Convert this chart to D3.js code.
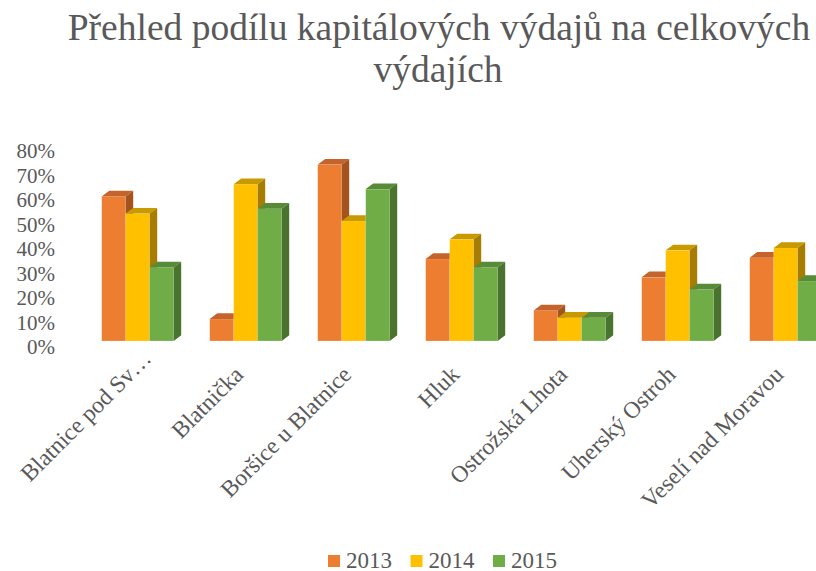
<!DOCTYPE html>
<html>
<head>
<meta charset="utf-8">
<script src="https://cdn.jsdelivr.net/npm/d3@7"></script>
<style>
  body { margin: 0; background: #fff; }
</style>
</head>
<body>
<div id="chart"></div>
<script>
// data
const categories = ["Blatnice pod Sv…", "Blatnička", "Boršice u Blatnice", "Hluk",
  "Ostrožská Lhota", "Uherský Ostroh", "Veselí nad Moravou"];
const years = ["2013", "2014", "2015"];
const v2013 = [0.59, 0.09, 0.72, 0.335, 0.125, 0.26, 0.34];
const v2014 = [0.52, 0.64, 0.49, 0.415, 0.095, 0.37, 0.38];
const v2015 = [0.30, 0.54, 0.62, 0.30, 0.095, 0.21, 0.245];
const yTicks = [0, 0.1, 0.2, 0.3, 0.4, 0.5, 0.6, 0.7, 0.8];

const series = [v2013, v2014, v2015];
const front = ["#ED7D31", "#FFC000", "#70AD47"];
const topC = ["#C4632A", "#C99A00", "#588B37"];
const sideC = ["#A4531F", "#A67D00", "#4A732E"];

const FONT = "'Liberation Serif', 'Times New Roman', serif";
const W = 816, H = 571;
const base = 341;
const dx = 7.5, dy = -5.7; // depth offset

const svg = d3.select("#chart").append("svg")
  .attr("width", W).attr("height", H);

svg.append("rect").attr("width", W).attr("height", H).attr("fill", "#fff");

// title
const title = svg.append("text")
  .attr("text-anchor", "middle")
  .style("font-family", FONT)
  .style("font-size", "37.5px")
  .attr("fill", "#595959");
title.append("tspan").attr("x", 439).attr("y", 40)
  .text("Přehled podílu kapitálových výdajů na celkových");
title.append("tspan").attr("x", 438).attr("y", 82).text("výdajích");

const x = d3.scaleBand().domain(categories).range([83.7, 83.7 + 108 * 7]).padding(0);
const xs = d3.scaleBand().domain(years).range([18, 90]);
const y = d3.scaleLinear().domain([0, 0.8]).range([base, base - 196]);

// y axis labels
const yAxis = svg.append("g")
  .attr("transform", "translate(57,6)")
  .call(d3.axisLeft(y).tickValues(yTicks).tickFormat(d3.format(".0%")).tickSize(0).tickPadding(2));
yAxis.select(".domain").remove();
yAxis.selectAll("text")
  .style("font-size", "21px")
  .style("font-family", FONT)
  .attr("fill", "#595959");

// bars
const bars = [];
categories.forEach((c, ci) => {
  series.forEach((s, si) => {
    bars.push({ cat: c, si: si, v: s[ci] });
  });
});

const g = svg.append("g");
const bw = xs.bandwidth();
bars.forEach(d => {
  const x0 = x(d.cat) + xs(years[d.si]);
  const yt = y(d.v);
  const bar = g.append("g");
  bar.append("rect")
    .attr("x", x0).attr("y", yt)
    .attr("width", bw).attr("height", base - yt)
    .attr("fill", front[d.si])
    .attr("stroke", "rgba(255,255,255,0.35)").attr("stroke-width", 0.6);
  bar.append("polygon")
    .attr("points", [[x0, yt], [x0 + dx, yt + dy], [x0 + bw + dx, yt + dy], [x0 + bw, yt]].join(" "))
    .attr("fill", topC[d.si]);
  bar.append("polygon")
    .attr("points", [[x0 + bw, yt], [x0 + bw + dx, yt + dy], [x0 + bw + dx, base + dy], [x0 + bw, base]].join(" "))
    .attr("fill", sideC[d.si]);
});

// x labels (truncated label keeps room for the hidden rest)
svg.append("g").selectAll("text")
  .data(categories)
  .join("text")
  .attr("text-anchor", "end")
  .attr("transform", d => {
    const shift = d.endsWith("…") ? 16 : 0;
    return `translate(${x(d) + x.bandwidth() / 2 - 1 + shift},${376 - shift}) rotate(-45)`;
  })
  .style("font-family", FONT)
  .style("font-size", "23.5px")
  .attr("fill", "#595959")
  .text(d => d);

// legend
const legend = svg.append("g").attr("transform", "translate(328,555)");
const li = legend.selectAll("g").data(years).join("g")
  .attr("transform", (d, i) => `translate(${i * 82.5},0)`);
li.append("rect").attr("width", 12).attr("height", 12)
  .attr("fill", (d, i) => front[i]);
li.append("text").attr("x", 18).attr("y", 12.5)
  .style("font-family", FONT)
  .style("font-size", "23px")
  .attr("fill", "#595959")
  .text(d => d);
</script>
</body>
</html>
